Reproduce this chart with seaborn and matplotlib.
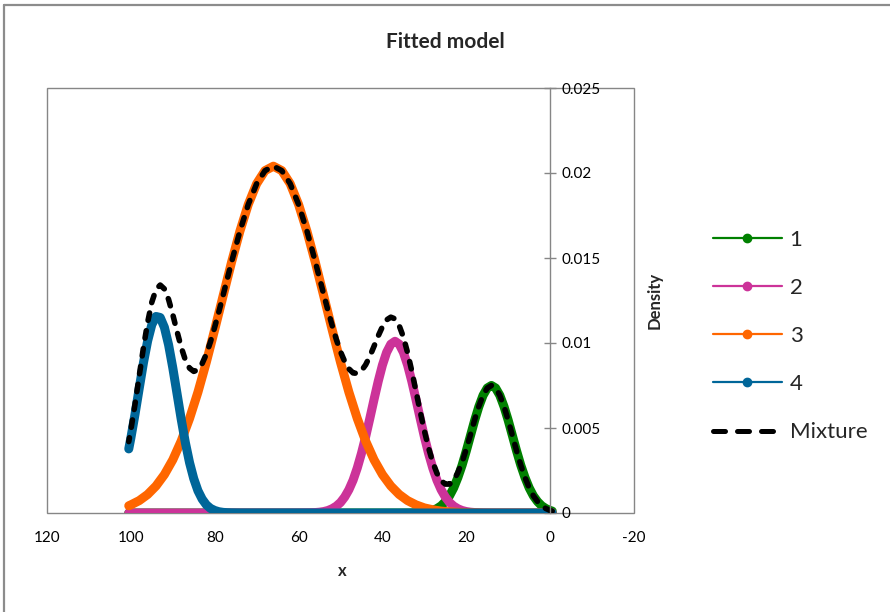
import matplotlib
matplotlib.use("Agg")
import matplotlib.pyplot as plt
import seaborn as sns
from matplotlib.lines import Line2D
from matplotlib.patches import Rectangle
from matplotlib.ticker import FuncFormatter

# component 1 (green)
x_1 = [100.5, 36, 34, 33, 32, 31, 30, 29, 28, 27, 26, 25, 24, 23, 22, 21, 20, 19, 18,
       17, 16, 15, 14, 13, 12, 11, 10, 9, 8, 7, 6, 5, 4, 3, 2, 1, 0, -0.5]
y_1 = [0, 0, 0.0000026, 0.000005, 0.000011, 0.000023, 0.000045, 0.000083, 0.00015, 0.00026,
       0.00042, 0.00067, 0.00101, 0.00148, 0.00209, 0.00281, 0.00365, 0.00455, 0.00545,
       0.00626, 0.00692, 0.00735, 0.00750, 0.00735, 0.00692, 0.00626, 0.00545, 0.00455,
       0.00365, 0.00281, 0.00209, 0.00148, 0.00101, 0.00067, 0.00042, 0.00026, 0.00015, 0.00011]

# component 2 (pink)
x_2 = [100.5, 62, 60, 58, 57, 56, 55, 54, 53, 52, 51, 50, 49, 48, 47, 46, 45, 44, 43, 42,
       41, 40, 39, 38, 37, 36, 35, 34, 33, 32, 31, 30, 29, 28, 27, 26, 25, 24, 23, 22,
       21, 20, 19, 18, 17, 16, 14, 12, 0, -0.5]
y_2 = [0, 0, 0.000002, 0.000007, 0.000014, 0.000026, 0.000048, 0.000085, 0.000147, 0.00025,
       0.00040, 0.00062, 0.00094, 0.00137, 0.00193, 0.00265, 0.00351, 0.00449, 0.00557, 0.00668,
       0.00775, 0.00870, 0.00945, 0.00993, 0.01010, 0.00993, 0.00945, 0.00870, 0.00775, 0.00668,
       0.00557, 0.00449, 0.00351, 0.00265, 0.00193, 0.00137, 0.00094, 0.00062, 0.00040, 0.00025,
       0.000147, 0.000085, 0.000048, 0.000026, 0.000014, 0.000007, 0.000002, 0, 0, 0]

# component 3 (orange)
x_3 = [100.5, 100, 98, 96, 94, 92, 90, 88, 86, 84, 82, 80, 78, 76, 74, 72, 70, 68, 66, 64,
       62, 60, 58, 56, 54, 52, 50, 48, 46, 44, 42, 40, 38, 36, 34, 32, 30, 28, 26, 24,
       22, 20, 18, 16, 14, 12, 10, 8, 6, 4, 2, 0, -0.5]
y_3 = [0.000425, 0.00048, 0.00073, 0.00109, 0.00159, 0.00226, 0.00313, 0.00423, 0.00556, 0.00711,
       0.00887, 0.01079, 0.01277, 0.01474, 0.01657, 0.01815, 0.01937, 0.02014, 0.02040, 0.02014,
       0.01937, 0.01815, 0.01657, 0.01474, 0.01277, 0.01079, 0.00887, 0.00711, 0.00556, 0.00423,
       0.00313, 0.00226, 0.00159, 0.00109, 0.00073, 0.00048, 0.00030, 0.00019, 0.00011, 0.00007,
       0.00004, 0.00002, 0.00001, 0, 0, 0, 0, 0, 0, 0, 0, 0, 0]

# component 4 (blue)
x_4 = [100.5, 100, 99, 98, 97, 96, 95, 94, 93, 92, 91, 90, 89, 88, 87, 86, 85, 84, 83, 82,
       81, 80, 79, 78, 77, 76, 74, 72, 0, -0.5]
y_4 = [0.00377, 0.00441, 0.00582, 0.00734, 0.00883, 0.01012, 0.01108, 0.01156, 0.01150, 0.01092,
       0.00989, 0.00854, 0.00704, 0.00553, 0.00414, 0.00296, 0.00202, 0.00131, 0.00082, 0.00048,
       0.00027, 0.00015, 0.000075, 0.000037, 0.000017, 0.000008, 0.000001, 0, 0, 0]

# mixture density
x_mix = [100.5, 100, 99, 98, 97, 96, 95, 94, 93, 92, 91, 90, 89, 88, 87, 86, 85, 84, 83, 82,
         81, 80, 79, 78, 77, 76, 74, 72, 70, 68, 66, 64, 62, 60, 58,
         57, 56, 55, 54, 53, 52, 51, 50, 49, 48, 47, 46, 45, 44, 43, 42, 41, 40, 39, 38,
         37, 36, 35, 34, 33, 32, 31, 30, 29, 28, 27, 26, 25, 24, 23, 22, 21, 20, 19, 18,
         17, 16, 15, 14, 13, 12, 11, 10, 9, 8, 7, 6, 5, 4, 3, 2, 1, 0, -0.5]
y_mix = [0.00420, 0.00489, 0.00641, 0.00807, 0.00973, 0.01121, 0.01240, 0.01315, 0.01341, 0.01318,
         0.01256, 0.01167, 0.01069, 0.00976, 0.00900, 0.00852, 0.00833, 0.00842, 0.00879, 0.00935,
         0.01008, 0.01094, 0.01185, 0.01281, 0.01378, 0.01475, 0.01657, 0.01815, 0.01937, 0.02014,
         0.02040, 0.02014, 0.01937, 0.01815, 0.01658,
         0.01569, 0.01477, 0.01381, 0.01286, 0.01192, 0.01104, 0.01021, 0.00949, 0.00891, 0.00848,
         0.00824, 0.00821, 0.00837, 0.00872, 0.00922, 0.00981, 0.01042, 0.01096, 0.01136, 0.01152,
         0.01142, 0.01102, 0.01035, 0.00943, 0.00835, 0.00717, 0.00597, 0.00484, 0.00383, 0.00299,
         0.00234, 0.00190, 0.00170, 0.00170, 0.00193, 0.00238, 0.00299, 0.00376, 0.00461, 0.00549,
         0.00628, 0.00693, 0.00735, 0.00750, 0.00735, 0.00692, 0.00626, 0.00545, 0.00455, 0.00365,
         0.00281, 0.00209, 0.00148, 0.00101, 0.00067, 0.00042, 0.00026, 0.00015, 0.00011]

labels = ["1", "2", "3", "4"]
colors = ["#008000", "#CC3399", "#FF6600", "#006699"]
x_ticks = [120, 100, 80, 60, 40, 20, 0, -20]
y_ticks = [0, 0.005, 0.01, 0.015, 0.02, 0.025]

sns.set_theme(style="white")
plt.rcParams["font.family"] = ["Lato", "DejaVu Sans"]
plt.rcParams["axes.unicode_minus"] = False

fig = plt.figure(figsize=(8.9, 6.12), dpi=100)
ax = fig.add_axes([47 / 890, 1 - 513 / 612, 587 / 890, 425 / 612])

series = [(x_1, y_1), (x_2, y_2), (x_3, y_3), (x_4, y_4)]
for (xs, ys), col in zip(series, colors):
    sns.lineplot(x=xs, y=ys, color=col, linewidth=6.5, ax=ax,
                 solid_capstyle="round", solid_joinstyle="round")
sns.lineplot(x=x_mix, y=y_mix, color="black", linewidth=4, ax=ax,
             linestyle=(0, (1.35, 1.9)), dash_capstyle="round")

ax.set_xlim(120, -20)
ax.set_ylim(0, 0.025)
ax.set_xticks(x_ticks)
ax.set_yticks(y_ticks)
ax.xaxis.set_major_formatter(FuncFormatter(lambda v, p: "%d" % v))
ax.yaxis.set_major_formatter(FuncFormatter(lambda v, p: "%g" % v))

gray = "#868686"
for s in ["left", "top", "bottom"]:
    ax.spines[s].set_visible(False)
ax.spines["right"].set_position(("data", 0))
ax.spines["right"].set_color(gray)
ax.spines["right"].set_linewidth(1.0)
ax.add_patch(Rectangle((0, 0), 1, 1, transform=ax.transAxes, fill=False,
                       edgecolor=gray, linewidth=1.0, clip_on=False, zorder=0))
ax.yaxis.tick_right()
ax.tick_params(axis="y", direction="inout", length=9, width=1, color=gray,
               labelsize=11, pad=4, labelcolor="black")
ax.tick_params(axis="x", direction="out", length=5, width=1, color=gray,
               labelsize=11, pad=8, labelcolor="black")
ax.set_xlabel("")
ax.set_ylabel("")

fig.text(0.5, 1 - 42 / 612, "Fitted model", fontsize=15, fontweight="bold",
         ha="center", va="center")
fig.text(342 / 890, 1 - 571 / 612, "x", fontsize=12, fontweight="bold",
         ha="center", va="center")
fig.text(655 / 890, 1 - 300 / 612, "Density", fontsize=12, fontweight="bold",
         rotation=90, ha="center", va="center")

handles = [Line2D([], [], color=c, linewidth=1.6, marker="o", markersize=6) for c in colors]
handles.append(Line2D([], [], color="black", linewidth=3.6, linestyle=(0, (2.4, 2.4)),
                      dash_capstyle="round"))
fig.legend(handles, labels + ["Mixture"], loc="center left",
           bbox_to_anchor=(713 / 890, 1 - 336 / 612),
           frameon=False, fontsize=16, handlelength=3.1, handletextpad=0.35,
           labelspacing=1.27, borderpad=0, borderaxespad=0)

# chart-area frame: only top and left edges show in the reference
fig.add_artist(Line2D([4 / 890, 1], [1 - 5 / 612, 1 - 5 / 612], transform=fig.transFigure,
                      color="#8C8C8C", linewidth=1.6))
fig.add_artist(Line2D([4 / 890, 4 / 890], [0, 1 - 5 / 612], transform=fig.transFigure,
                      color="#8C8C8C", linewidth=1.6))

fig.savefig("out.png", dpi=100)
